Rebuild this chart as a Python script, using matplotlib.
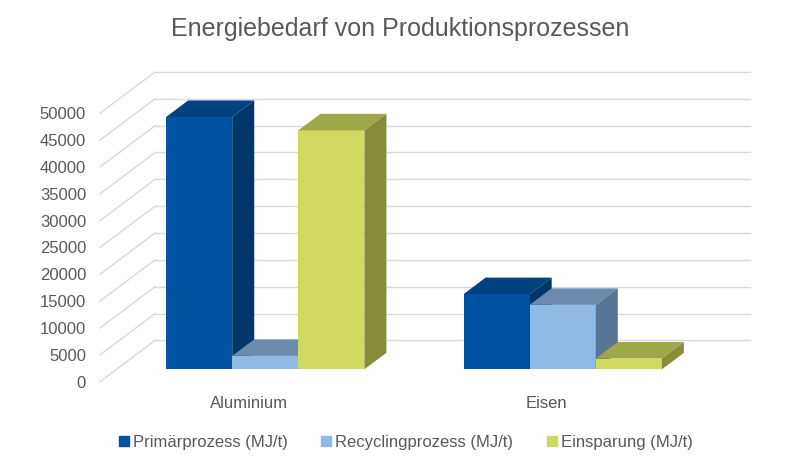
import matplotlib.pyplot as plt
from matplotlib.lines import Line2D

plt.rcParams['font.family'] = ['Liberation Sans', 'DejaVu Sans']

# Daten
categories = ['Aluminium', 'Eisen']
series_names = ['Primärprozess (MJ/t)', 'Recyclingprozess (MJ/t)', 'Einsparung (MJ/t)']
primaer = [47000, 14000]
recycling = [2500, 12000]
einsparung = [44500, 2000]
y_ticks = list(range(0, 50001, 5000))

values = [primaer, recycling, einsparung]

# Farben (Vorderseite, Deckel, Seite)
front_cols = ['#0053a0', '#8ebae5', '#d1da5e']
top_cols = ['#00427f', '#6a8bad', '#9fa846']
side_cols = ['#00376a', '#587594', '#878c3b']
text_col = '#595959'
grid_col = '#d9d9d9'

# Pseudo-3D Geometrie (Einheiten: Balkenbreite = 1)
PX_PER_U = 66.0
PX_PER_V = 268.4 / 50000
DX = 55 / PX_PER_U          # Tiefe in x
DY = 41.3 / PX_PER_V        # Tiefe in y
D0 = 0.30                   # Abstand vorn
DD = 0.40                   # Balkentiefe
GROUP = 4.5
GAP = 0.75

fig = plt.figure(figsize=(8, 4.67), dpi=100)
ax = fig.add_axes([0.125, 0.1827, 0.8125, 0.6632])
ax.set_xlim(0, len(categories) * GROUP + DX)
ax.set_ylim(0, y_ticks[-1] + DY)

# Gitter: Seitenwand-Diagonalen und Rückwand-Linien
xmax = len(categories) * GROUP + DX
for v in y_ticks:
    ax.plot([0, DX], [v, v + DY], color=grid_col, lw=1, zorder=1, clip_on=False)
    ax.plot([DX, xmax], [v + DY, v + DY], color=grid_col, lw=1, zorder=1, clip_on=False)

# Balken
z = 3
for k in range(len(categories)):
    for j in range(len(series_names)):
        v = values[j][k]
        x0 = GROUP * k + GAP + j + DX * D0
        y0 = DY * D0
        ax.bar(x0, v, width=1, bottom=y0, align='edge', color=front_cols[j],
               linewidth=0, zorder=z, clip_on=False)
        ax.fill([x0, x0 + 1, x0 + 1 + DX * DD, x0 + DX * DD],
                [y0 + v, y0 + v, y0 + v + DY * DD, y0 + v + DY * DD],
                color=top_cols[j], lw=0, zorder=z + 1, clip_on=False)
        ax.fill([x0 + 1, x0 + 1 + DX * DD, x0 + 1 + DX * DD, x0 + 1],
                [y0, y0 + DY * DD, y0 + v + DY * DD, y0 + v],
                color=side_cols[j], lw=0, zorder=z + 2, clip_on=False)
        z += 3

for s in ax.spines.values():
    s.set_visible(False)

ax.set_yticks(y_ticks)
ax.set_yticklabels([str(t) for t in y_ticks])
ax.set_xticks([GROUP * k + GROUP / 2 for k in range(len(categories))])
ax.set_xticklabels(categories)
ax.tick_params(axis='y', length=0, pad=10, labelsize=12, labelcolor=text_col)
ax.tick_params(axis='x', length=0, pad=10, labelsize=12, labelcolor=text_col)

fig.text(0.5, 1 - 29 / 467, 'Energiebedarf von Produktionsprozessen',
         ha='center', va='center', fontsize=18, color=text_col)

handles = [Line2D([], [], marker='s', ls='none', markersize=7, color=c) for c in front_cols]
fig.legend(handles, series_names, loc='center', bbox_to_anchor=(0.507, 25 / 467), ncol=3,
           frameon=False, fontsize=12, labelcolor=text_col, handlelength=0.6,
           handletextpad=0.25, columnspacing=2.0)

fig.savefig('out.png', dpi=100)
